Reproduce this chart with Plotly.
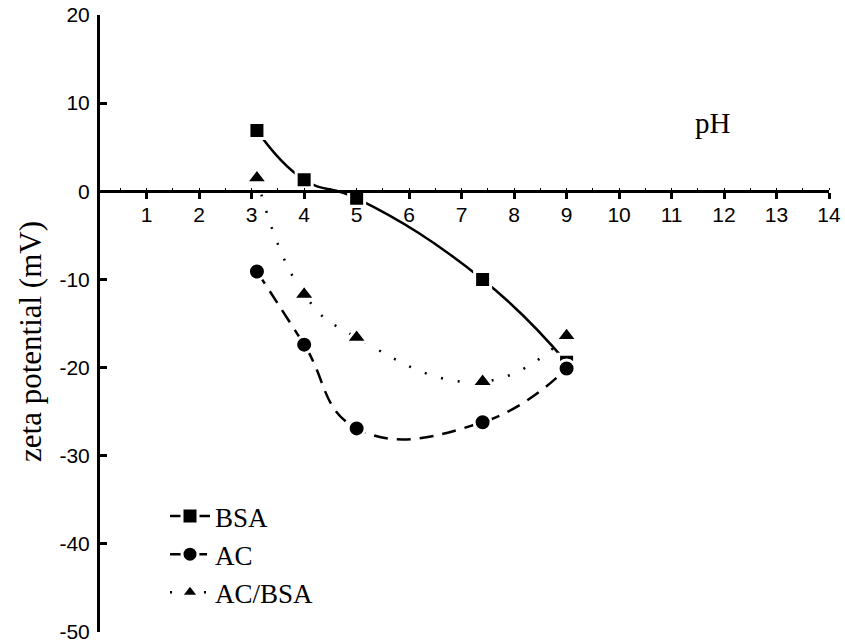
import plotly.graph_objects as go

# pH values at which zeta potential was measured
ph = [3.1, 4.0, 5.0, 7.4, 9.0]

# zeta potential (mV) for each sample
zeta_bsa = [6.9, 1.3, -0.8, -10.0, -19.4]
zeta_ac = [-9.1, -17.4, -26.9, -26.2, -20.1]
zeta_ac_bsa = [1.5, -11.7, -16.6, -21.6, -16.4]

series_names = ["BSA", "AC", "AC/BSA"]
x_ticks = list(range(1, 15))
y_ticks = [20, 10, 0, -10, -20, -30, -40, -50]
y_range = [-50, 20]

SERIF = "Liberation Serif, Times New Roman, serif"
SANS = "Liberation Sans, Arial, sans-serif"

styles = [
    dict(dash="solid", symbol="square", size=16),
    dict(dash="14px,9px", symbol="circle", size=17),
    dict(dash="2px,15px", symbol="triangle-up", size=19),
]

fig = go.Figure()
for name, y, st in zip(series_names, [zeta_bsa, zeta_ac, zeta_ac_bsa], styles):
    fig.add_trace(go.Scatter(
        x=ph, y=y, name=name, mode="lines+markers",
        line=dict(color="black", width=2.5, dash=st["dash"], shape="spline", smoothing=1.3),
        marker=dict(symbol=st["symbol"], size=st["size"], color="black",
                    line=dict(color="white", width=3)),
    ))

# the pH axis crosses the potential axis at 0 mV
zero_frac = (0 - y_range[0]) / (y_range[1] - y_range[0])

fig.update_layout(
    width=845, height=643,
    margin=dict(l=100, r=16, t=15, b=11),
    paper_bgcolor="white", plot_bgcolor="white",
    showlegend=True,
    legend=dict(
        x=(165 - 100) / 729, y=(632 - 492) / 617, xanchor="left", yanchor="top",
        font=dict(family=SERIF, size=27, color="black"),
        bgcolor="rgba(0,0,0,0)", tracegroupgap=0, itemwidth=40,
    ),
    xaxis=dict(
        range=[0.11, 14], anchor="free", position=zero_frac, automargin=False,
        tickvals=x_ticks, ticktext=[str(v) for v in x_ticks],
        showline=True, linecolor="black", linewidth=3,
        ticks="outside", ticklen=6, tickwidth=2.5, tickcolor="black",
        minor=dict(dtick=0.5, ticks="inside", ticklen=2, tickwidth=1.2, tickcolor="black"),
        tickfont=dict(family=SANS, size=21, color="black"),
        ticklabelstandoff=-2, ticklabeloverflow="allow",
        showgrid=False, zeroline=False,
    ),
    yaxis=dict(
        range=y_range, automargin=False,
        tickvals=y_ticks, ticktext=[str(v) for v in y_ticks],
        showline=True, linecolor="black", linewidth=3,
        ticks="inside", ticklen=7, tickwidth=2.5, tickcolor="black",
        tickfont=dict(family=SANS, size=21, color="black"),
        ticklabelstandoff=3, ticklabeloverflow="allow",
        showgrid=False, zeroline=False,
    ),
    annotations=[
        dict(x=11.79, y=7.7, xref="x", yref="y", text="pH", showarrow=False,
             xanchor="center", yanchor="middle",
             font=dict(family=SERIF, size=29, color="black")),
        dict(x=(30 - 100) / 729, y=(632 - 342) / 617, xref="paper", yref="paper",
             text="zeta potential (mV)", textangle=-90, showarrow=False,
             xanchor="center", yanchor="middle",
             font=dict(family=SERIF, size=31, color="black")),
    ],
)

fig.write_html("out.html")
